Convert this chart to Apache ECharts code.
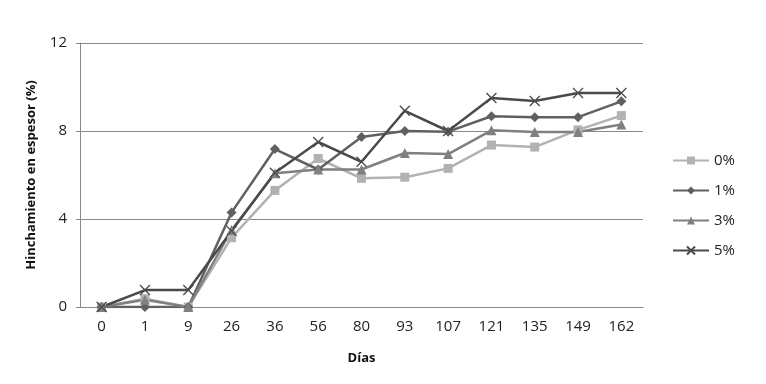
<!DOCTYPE html>
<html>
<head>
<meta charset="utf-8">
<script src="https://cdn.jsdelivr.net/npm/echarts@6/dist/echarts.min.js"></script>
<style>html,body{margin:0;padding:0;background:#fff}#c{width:766px;height:384px}</style>
</head>
<body>
<div id="c"></div>
<script>
var categories = ['0','1','9','26','36','56','80','93','107','121','135','149','162'];
var s0 = [0, 0.38, 0, 3.15, 5.3, 6.75, 5.85, 5.9, 6.3, 7.36, 7.27, 8.05, 8.7];
var s1 = [0, 0, 0, 4.3, 7.18, 6.25, 7.73, 8.0, 7.97, 8.67, 8.63, 8.63, 9.35];
var s3 = [0, 0.33, 0, 3.5, 6.08, 6.25, 6.25, 7.0, 6.95, 8.03, 7.95, 7.95, 8.3];
var s5 = [0, 0.77, 0.77, 3.45, 6.1, 7.5, 6.6, 8.92, 8.0, 9.5, 9.36, 9.73, 9.73];
var seriesNames = ['0%','1%','3%','5%'];
var yTicks = [0, 4, 8, 12];

var FONT = "'Open Sans', 'Liberation Sans', sans-serif";
var chart = echarts.init(document.getElementById('c'), null, {renderer:'canvas'});
var crossPath = 'path://M0,0L10,10M10,0L0,10';
function mk(name, data, color, symbol, size, isCross) {
  var s = {
    name: name, type: 'line', data: data,
    symbol: symbol, symbolSize: size, showSymbol: true,
    lineStyle: {color: color, width: 2.5},
    itemStyle: {color: color},
    emphasis: {disabled: true},
    animation: false, z: 2
  };
  if (isCross) {
    s.itemStyle = {color: 'rgba(0,0,0,0)', borderColor: color, borderWidth: 1.3};
  }
  return s;
}
chart.setOption({
  backgroundColor: '#fff',
  animation: false,
  grid: {left: 80, right: 123, top: 43, bottom: 77, containLabel: false},
  legend: {
    orient: 'vertical', left: 667, top: 148,
    itemWidth: 36, itemHeight: 10, itemGap: 15,
    textStyle: {fontFamily: FONT, fontSize: 15, color: '#222'},
    data: seriesNames
  },
  xAxis: {
    type: 'category', data: categories, boundaryGap: true,
    name: 'Días', nameLocation: 'middle', nameGap: 45,
    nameTextStyle: {fontFamily: FONT, fontSize: 13, fontWeight: 'bold', color: '#111'},
    axisLine: {show: true, lineStyle: {color: '#888', width: 1}},
    axisTick: {show: false},
    axisLabel: {fontFamily: FONT, fontSize: 15, color: '#222', margin: 12}
  },
  yAxis: {
    type: 'value', min: 0, max: 12, interval: 4,
    name: 'Hinchamiento en espesor (%)', nameLocation: 'middle', nameGap: 42, nameRotate: 90,
    nameTextStyle: {fontFamily: FONT, fontSize: 13, fontWeight: 'bold', color: '#111'},
    axisLine: {show: true, lineStyle: {color: '#888', width: 1}},
    axisTick: {show: true, length: 4, lineStyle: {color: '#888'}},
    splitLine: {show: true, lineStyle: {color: '#888', width: 1}},
    axisLabel: {fontFamily: FONT, fontSize: 15, color: '#222', margin: 13,
      formatter: function(v){ return yTicks.indexOf(v) >= 0 ? String(v) : ''; }}
  },
  series: [
    mk('0%', s0, '#b2b2b2', 'rect', 9),
    mk('1%', s1, '#606060', 'diamond', 10),
    mk('3%', s3, '#808080', 'triangle', 10),
    mk('5%', s5, '#4a4a4a', crossPath, 10, true)
  ]
});
</script>
</body>
</html>
